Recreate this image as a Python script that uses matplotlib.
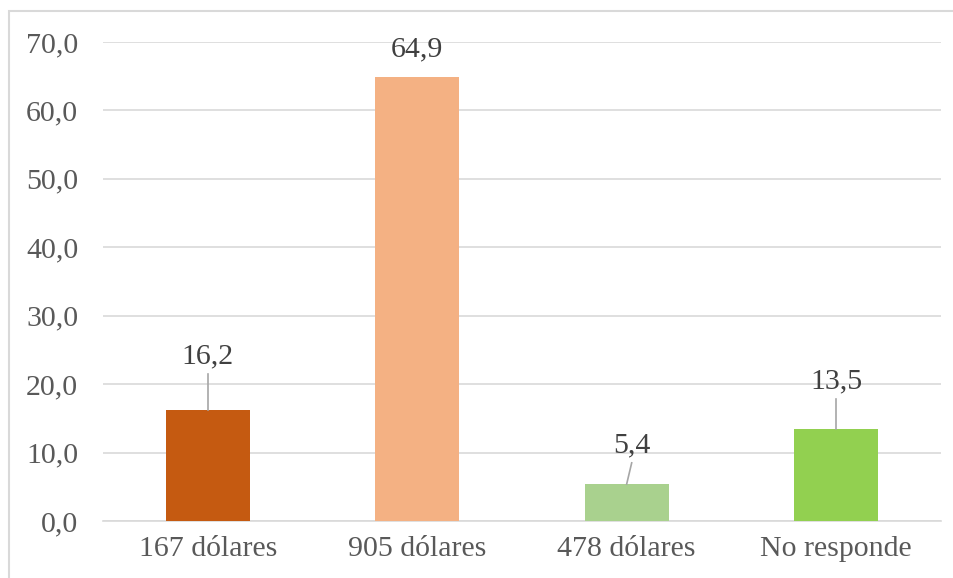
import matplotlib.pyplot as plt
from matplotlib.patches import Rectangle

categorias = ["167 dólares", "905 dólares", "478 dólares", "No responde"]
porcentajes = [16.2, 64.9, 5.4, 13.5]
colores = ["#C55A11", "#F4B183", "#A9D18E", "#92D050"]
# where each value label sits (baseline) and small horizontal nudge
etiqueta_y = [23.1, 67.95, 10.1, 19.45]
etiqueta_dx = [0.0, 0.0, 0.024, 0.0]
con_linea = [True, False, True, True]

plt.rcParams['font.family'] = ['Liberation Serif', 'DejaVu Serif']
gris = "#595959"
tam = 21.5

fig = plt.figure(figsize=(9.54, 5.78), dpi=100)
# chart area border
fig.patches.append(Rectangle((9 / 954, -0.1), 1.2, 1 - 11 / 578 + 0.1,
                             transform=fig.transFigure, fill=False,
                             edgecolor="#D9D9D9", lw=1.5))
ax = fig.add_axes([0.1082, 0.0986, 0.8779, 0.8287])

x = range(len(categorias))
ax.bar(x, porcentajes, width=0.40, color=colores, zorder=3)
ax.set_xlim(-0.5, len(categorias) - 0.5)
ax.set_ylim(0, 70)
ax.set_yticks(range(0, 71, 10))
ax.set_yticklabels([f"{v:.1f}".replace(".", ",") for v in range(0, 71, 10)])
ax.set_xticks(list(x))
ax.set_xticklabels(categorias)

ax.grid(axis="y", color="#D9D9D9", lw=1.2, zorder=0)
for s in ["top", "right", "left"]:
    ax.spines[s].set_visible(False)
ax.spines["bottom"].set_color("#D9D9D9")
ax.spines["bottom"].set_linewidth(1.2)
ax.tick_params(length=0, labelsize=tam, colors=gris)
ax.tick_params(axis="y", pad=18)
ax.tick_params(axis="x", pad=11)

for i, v in enumerate(porcentajes):
    lx = i + etiqueta_dx[i]
    ax.text(lx, etiqueta_y[i], f"{v:.1f}".replace(".", ","), ha="center",
            va="baseline", fontsize=tam, color="#404040", clip_on=False)
    if con_linea[i]:
        ax.plot([lx, i], [etiqueta_y[i] - 1.6, v], color="#A6A6A6", lw=1.2, zorder=4)

plt.savefig("out.png", dpi=100)
